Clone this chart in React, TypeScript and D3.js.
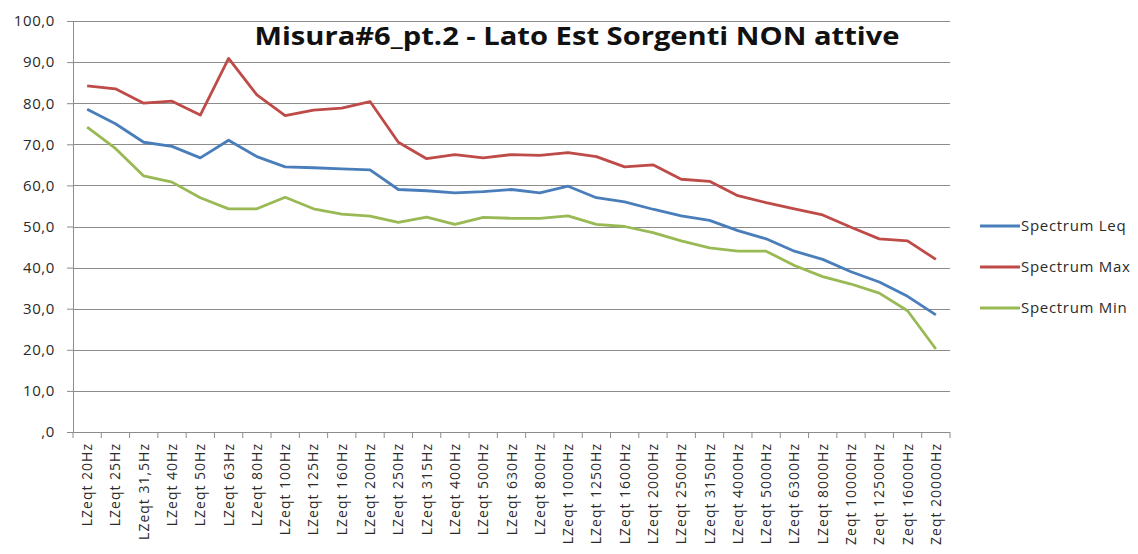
import React, { useEffect, useRef } from 'react'
import * as d3 from 'd3'

const categories = [
  'LZeqt 20Hz', 'LZeqt 25Hz', 'LZeqt 31,5Hz', 'LZeqt 40Hz', 'LZeqt 50Hz', 'LZeqt 63Hz',
  'LZeqt 80Hz', 'LZeqt 100Hz', 'LZeqt 125Hz', 'LZeqt 160Hz', 'LZeqt 200Hz', 'LZeqt 250Hz',
  'LZeqt 315Hz', 'LZeqt 400Hz', 'LZeqt 500Hz', 'LZeqt 630Hz', 'LZeqt 800Hz', 'LZeqt 1000Hz',
  'LZeqt 1250Hz', 'LZeqt 1600Hz', 'LZeqt 2000Hz', 'LZeqt 2500Hz', 'LZeqt 3150Hz', 'LZeqt 4000Hz',
  'LZeqt 5000Hz', 'LZeqt 6300Hz', 'LZeqt 8000Hz', 'Zeqt 10000Hz', 'Zeqt 12500Hz', 'Zeqt 16000Hz',
  'Zeqt 20000Hz',
]

const leq = [
  78.5, 75, 70.5, 69.5, 66.7, 71, 67, 64.5, 64.3, 64, 63.8, 59, 58.7, 58.2, 58.5, 59,
  58.2, 59.8, 57, 56, 54.2, 52.6, 51.5, 49, 47, 44, 42, 39, 36.5, 33, 28.5,
]
const max = [
  84.2, 83.5, 80, 80.5, 77.1, 90.9, 82, 77, 78.3, 78.8, 80.4, 70.5, 66.5, 67.5, 66.7, 67.5,
  67.3, 68, 67, 64.5, 65, 61.5, 61, 57.5, 55.8, 54.3, 52.8, 49.8, 47, 46.5, 42,
]
const min = [
  74.2, 69, 62.3, 60.8, 57, 54.3, 54.3, 57.1, 54.3, 53, 52.5, 51, 52.3, 50.5, 52.2, 52,
  52, 52.6, 50.5, 50, 48.5, 46.5, 44.8, 44, 44, 40.5, 37.8, 36, 33.8, 29.5, 20.2,
]

const yTicks = [0, 10, 20, 30, 40, 50, 60, 70, 80, 90, 100]
const seriesNames = ['Spectrum Leq', 'Spectrum Max', 'Spectrum Min']
const seriesColors = ['#4a7ebb', '#be4b48', '#98b954']

const W = 1138
const H = 554
const margin = { left: 73, right: 188, top: 21, bottom: 122 }
const font = '"Open Sans", "Noto Sans", sans-serif'

export default function App() {
  const ref = useRef<SVGSVGElement>(null)

  useEffect(() => {
    const svg = d3.select(ref.current)
    svg.selectAll('*').remove()

    const width = W - margin.left - margin.right
    const height = H - margin.top - margin.bottom

    svg.append('rect')
      .attr('x', 0.5).attr('y', 0.5)
      .attr('width', W - 1).attr('height', H - 1)
      .attr('fill', '#fff').attr('stroke', '#bdbdbd')

    const chart = svg.append('g').attr('transform', `translate(${margin.left},${margin.top})`)

    const x = d3.scaleBand().domain(categories).range([0, width]).paddingInner(0).paddingOuter(0)
    const y = d3.scaleLinear().domain([0, 100]).range([height, 0])

    // gridlines
    chart.append('g')
      .selectAll('line')
      .data(yTicks)
      .enter()
      .append('line')
      .attr('x1', 0).attr('x2', width)
      .attr('y1', (d) => Math.round(y(d)) + 0.5).attr('y2', (d) => Math.round(y(d)) + 0.5)
      .attr('stroke', '#8c8c8c').attr('stroke-width', 1.2)

    // y axis
    const yAxis = chart.append('g').call(
      d3.axisLeft(y).tickValues(yTicks).tickSize(6).tickPadding(12)
        .tickFormat((d) => (d === 0 ? ',0' : `${d3.format('.1f')(d as number).replace('.', ',')}`))
    )
    yAxis.select('.domain').attr('stroke', '#8c8c8c')
    yAxis.selectAll('.tick line').attr('stroke', '#8c8c8c')
    yAxis.selectAll('text').attr('font-family', font).attr('font-size', 15)
      .attr('letter-spacing', 0.6).attr('fill', '#2a2a2a')

    // x axis
    const xAxis = chart.append('g').attr('transform', `translate(0,${height})`)
    xAxis.append('line').attr('x1', 0).attr('x2', width).attr('y1', 0.5).attr('y2', 0.5).attr('stroke', '#8c8c8c')
    xAxis.selectAll('line.tk')
      .data(d3.range(categories.length + 1))
      .enter()
      .append('line')
      .attr('class', 'tk')
      .attr('x1', (i) => i * x.bandwidth()).attr('x2', (i) => i * x.bandwidth())
      .attr('y1', 0).attr('y2', 6)
      .attr('stroke', '#8c8c8c')
    xAxis.selectAll('text')
      .data(categories)
      .enter()
      .append('text')
      .attr('transform', (d) => `translate(${(x(d) as number) + x.bandwidth() / 2 + 5},11) rotate(-90)`)
      .attr('text-anchor', 'end')
      .attr('font-family', font)
      .attr('font-size', 14)
      .attr('letter-spacing', 1.0)
      .attr('fill', '#2a2a2a')
      .text((d) => d)

    // lines
    const allSeries = [leq, max, min]
    const line = d3.line<number>()
      .x((_, i) => (x(categories[i]) as number) + x.bandwidth() / 2)
      .y((d) => y(d))
    allSeries.forEach((s, k) => {
      chart.append('path')
        .datum(s)
        .attr('d', line)
        .attr('fill', 'none')
        .attr('stroke', seriesColors[k])
        .attr('stroke-width', 2.8)
        .attr('stroke-linejoin', 'round')
    })

    // title
    svg.append('text')
      .attr('x', 577).attr('y', 45)
      .attr('text-anchor', 'middle')
      .attr('font-family', font)
      .attr('font-weight', 'bold')
      .attr('font-size', 25)
      .attr('textLength', 645)
      .attr('lengthAdjust', 'spacingAndGlyphs')
      .attr('fill', '#111')
      .text('Misura#6_pt.2 - Lato Est Sorgenti NON attive')

    // legend
    const legend = svg.append('g').attr('transform', 'translate(980,226)')
    seriesNames.forEach((name, k) => {
      const g = legend.append('g').attr('transform', `translate(0,${k * 41})`)
      g.append('line').attr('x1', 0).attr('x2', 40).attr('y1', 0).attr('y2', 0)
        .attr('stroke', seriesColors[k]).attr('stroke-width', 2.8)
      g.append('text').attr('x', 41).attr('y', 5)
        .attr('font-family', font).attr('font-size', 15).attr('letter-spacing', 0.7)
        .attr('fill', '#2a2a2a')
        .text(name)
    })
  }, [])

  return (
    <div style={{ margin: -8 }}>
      <svg ref={ref} width={W} height={H} style={{ display: 'block' }} />
    </div>
  )
}
